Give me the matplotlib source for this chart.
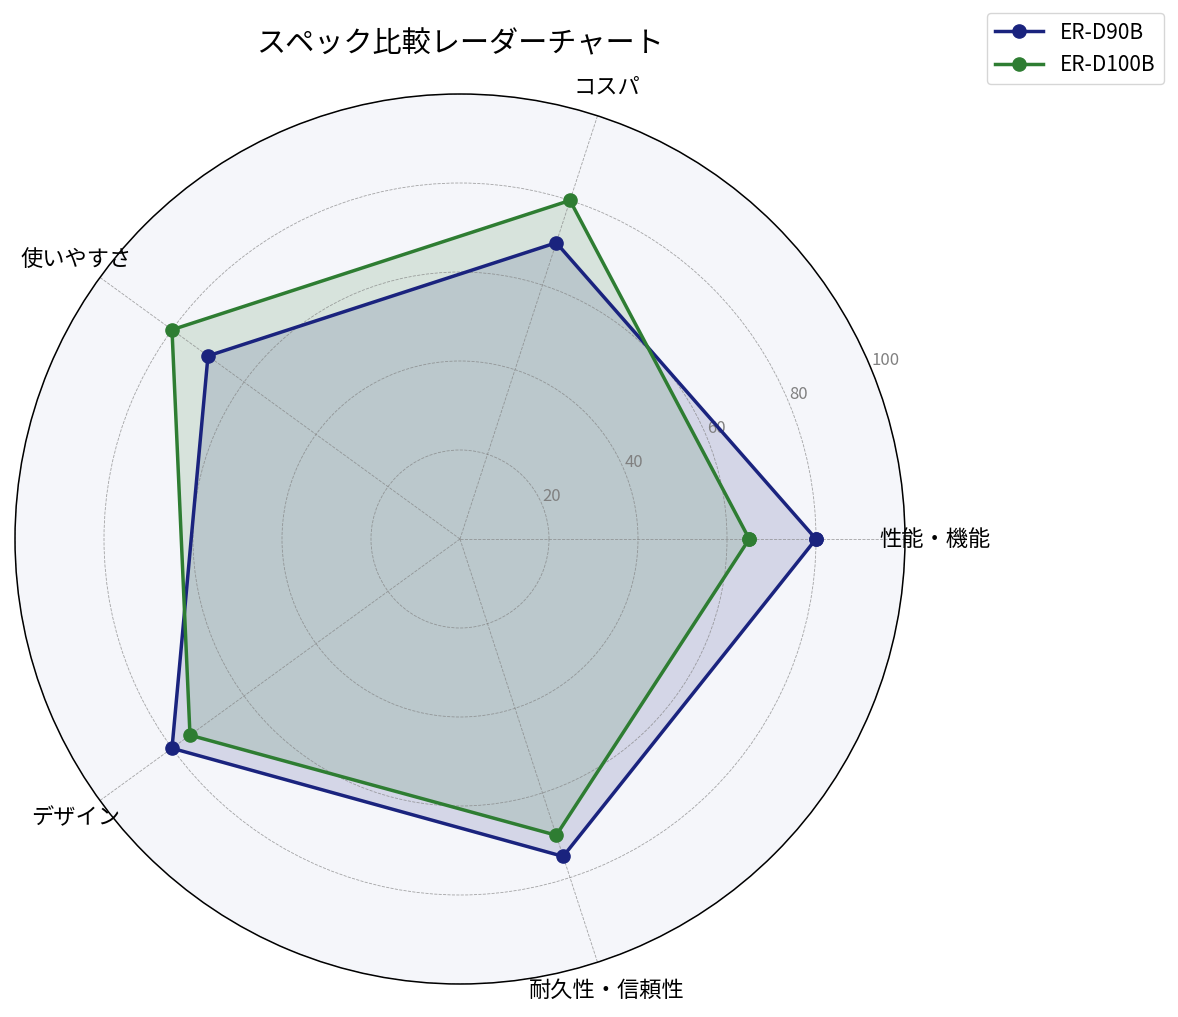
import numpy as np
import matplotlib
matplotlib.use('Agg')
import matplotlib.pyplot as plt

plt.rcParams['font.family'] = ['Noto Sans CJK JP', 'DejaVu Sans']

categories = ['性能・機能', 'コスパ', '使いやすさ', 'デザイン', '耐久性・信頼性']
er_d90b = [80, 70, 70, 80, 75]
er_d100b = [65, 80, 80, 75, 70]
series = [('ER-D90B', er_d90b, '#1a237e'), ('ER-D100B', er_d100b, '#2e7d32')]
r_ticks = [20, 40, 60, 80, 100]

angles = np.linspace(0, 2 * np.pi, len(categories), endpoint=False).tolist()
angles += angles[:1]

fig = plt.figure(figsize=(11.78, 10.17), dpi=100)
ax = fig.add_axes([15 / 1178, 33 / 1017, 890 / 1178, 890 / 1017], polar=True)
ax.set_facecolor('#f5f6fa')

for name, vals, color in series:
    v = vals + vals[:1]
    ax.plot(angles, v, color=color, linewidth=2.5, marker='o', markersize=9.5, label=name)
    ax.fill(angles, v, color=color, alpha=0.15)

ax.set_ylim(0, 100)
ax.set_yticks(r_ticks)
ax.set_yticklabels([str(t) for t in r_ticks], color='gray', fontsize=12)
ax.set_rlabel_position(22.5)
ax.set_xticks(angles[:-1])
ax.set_xticklabels(categories, fontsize=16)
ax.tick_params(axis='x', pad=11)
ax.grid(True, color='gray', linestyle='--', linewidth=0.6, alpha=0.7)
ax.spines['polar'].set_color('black')
ax.spines['polar'].set_linewidth(1.1)

ax.set_title('スペック比較レーダーチャート', fontsize=21, pad=30)

fig.legend(loc='upper right', bbox_to_anchor=(0.988, 0.987), bbox_transform=fig.transFigure,
           borderaxespad=0, fontsize=15, handlelength=2.3)

plt.savefig('out.png')
